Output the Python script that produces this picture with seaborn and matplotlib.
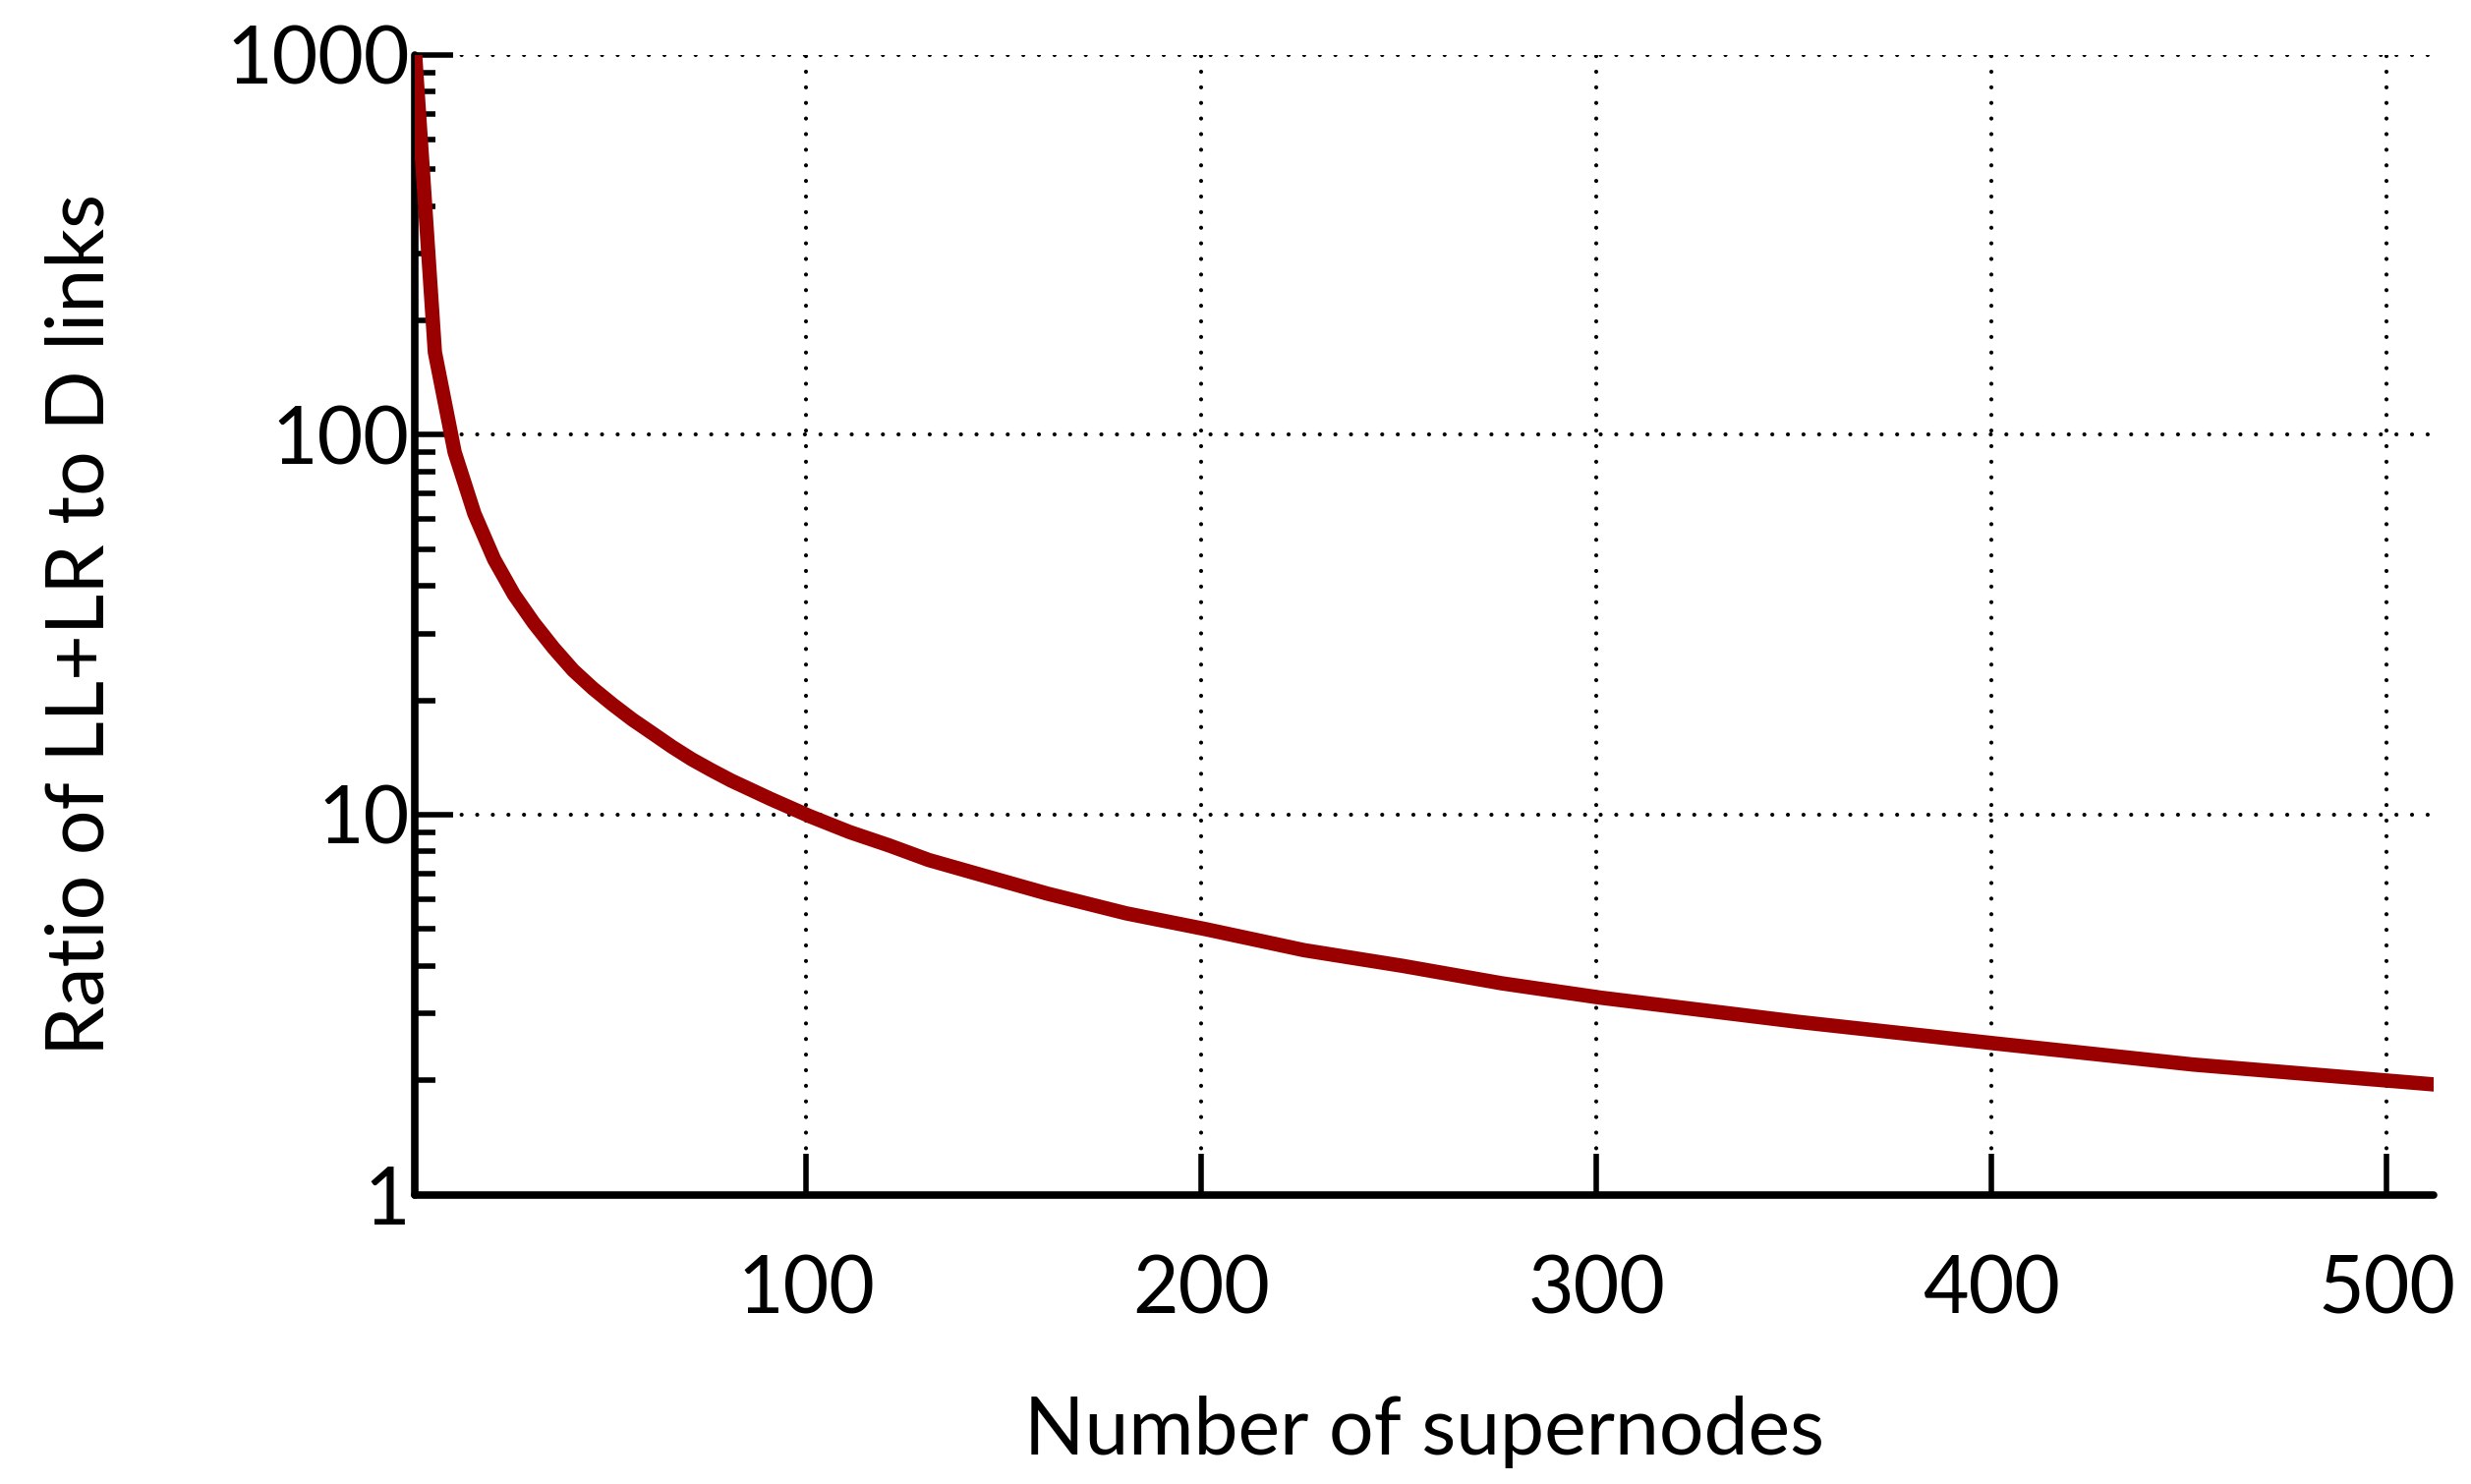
import matplotlib
matplotlib.use("Agg")
import matplotlib.pyplot as plt
import matplotlib.ticker as mticker
import seaborn as sns
import pandas as pd

# Data
supernodes = [1, 6, 11, 16, 21, 26, 31, 36, 41, 46, 51, 56, 61, 66, 71, 76, 81,
              91, 101, 111, 121, 131, 141, 161, 181, 201, 226, 251, 276, 301,
              351, 401, 451, 512]
ratio = [1000, 165, 90, 62, 47, 38, 32, 27.5, 24, 21.5, 19.5, 17.8, 16.4, 15.1,
         14, 13.1, 12.3, 11, 9.9, 9.0, 8.3, 7.6, 7.1, 6.2, 5.5, 5.0, 4.4, 4.0,
         3.6, 3.3, 2.85, 2.5, 2.2, 1.95]
x_ticks = [100, 200, 300, 400, 500]
y_ticks = [1, 10, 100, 1000]
y_tick_labels = ["1", "10", "100", "1000"]

df = pd.DataFrame({"supernodes": supernodes, "ratio": ratio})

sns.set_style("ticks")
plt.rcParams["font.family"] = ["Lato", "DejaVu Sans"]
plt.rcParams["text.color"] = "black"
plt.rcParams["axes.labelcolor"] = "black"
plt.rcParams["xtick.color"] = "black"
plt.rcParams["ytick.color"] = "black"

fig = plt.figure(figsize=(25.14, 15.10), dpi=100)
ax = fig.add_axes([0.168, 0.195, 0.817, 0.768])

sns.lineplot(data=df, x="supernodes", y="ratio", ax=ax, color="#9B0000",
             linewidth=10.5, solid_capstyle="round", solid_joinstyle="round",
             zorder=5)

ax.set_yscale("log")
ax.set_xlim(1, 512)
ax.set_ylim(1, 1000)

ax.set_xticks(x_ticks)
ax.set_xticklabels([str(t) for t in x_ticks])
ax.xaxis.set_minor_locator(mticker.NullLocator())
ax.set_yticks(y_ticks)
ax.set_yticklabels(y_tick_labels)
ax.yaxis.set_minor_locator(mticker.LogLocator(base=10, subs=range(2, 10)))
ax.yaxis.set_minor_formatter(mticker.NullFormatter())

ax.tick_params(axis="x", which="major", direction="in", length=30, width=4,
               labelsize=58, pad=44, colors="black", labelcolor="black")
ax.tick_params(axis="y", which="major", direction="in", length=28, width=4,
               labelsize=58, pad=4, colors="black", labelcolor="black")
ax.tick_params(axis="y", which="minor", direction="in", length=15, width=4,
               colors="black")

for side in ["top", "right"]:
    ax.spines[side].set_visible(False)
for side in ["left", "bottom"]:
    ax.spines[side].set_linewidth(5.5)
    ax.spines[side].set_color("black")
    ax.spines[side].set_capstyle("round")

ax.grid(True, which="major", axis="both", color="black", linewidth=3,
        linestyle=(0, (0.01, 3.8)), dash_capstyle="round")

ax.set_xlabel("Number of supernodes", fontsize=58, labelpad=50, color="black")
ax.set_ylabel("Ratio of LL+LR to D links", fontsize=58, labelpad=80,
              color="black")

fig.savefig("out.png", dpi=100, facecolor="white")
